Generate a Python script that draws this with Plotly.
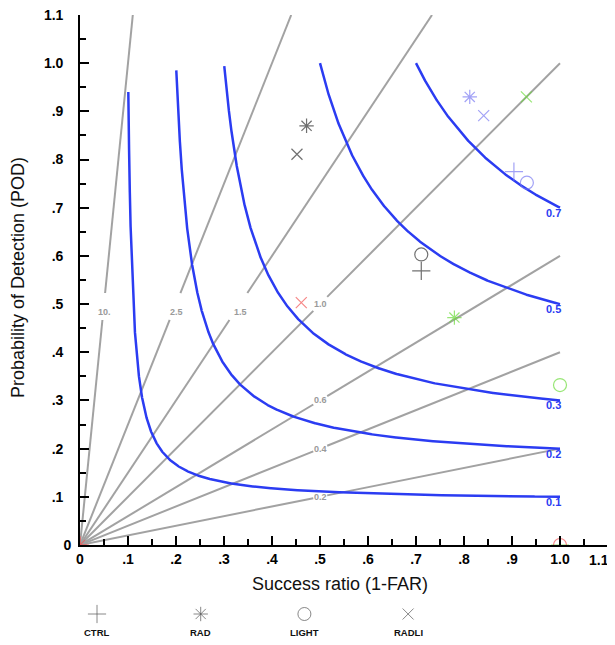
import numpy as np
import plotly.graph_objects as go

# The page has an 8px body margin; figure is sized/offset so the screen layout matches.
OFF = 8
W, H = 615 - OFF, 645 - OFF
PL, PR, PT, PB = 80 - OFF, 608 - OFF, 15 - OFF, 545 - OFF  # plot area in figure pixels

FONT = "Liberation Sans, Arial, Helvetica, sans-serif"
NB = "\u00a0\u00a0"

# ---------------- data ----------------
tick_vals = [0.0, 0.1, 0.2, 0.3, 0.4, 0.5, 0.6, 0.7, 0.8, 0.9, 1.0, 1.1]
tick_text = ["0", ".1", ".2", ".3", ".4", ".5", ".6", ".7", ".8", ".9", "1.0", "1.1"]
minor_vals = [0.05, 0.15, 0.25, 0.35, 0.45, 0.55, 0.65, 0.75, 0.85, 0.95, 1.05]

bias_values = [10.0, 2.5, 1.5, 1.0, 0.6, 0.4, 0.2]
bias_labels = ["10.", "2.5", "1.5", "1.0", "0.6", "0.4", "0.2"]

csi_values = [0.1, 0.2, 0.3, 0.5, 0.7]
csi_labels = ["0.1", "0.2", "0.3", "0.5", "0.7"]
csi_top_pod = [0.94, 0.985, 0.994, 1.0, 1.0]

experiments = ["CTRL", "RAD", "LIGHT", "RADLI"]
exp_symbols = ["cross-thin-open", "asterisk-open", "circle-open", "x-thin-open"]
exp_sizes = [13, 12, 13, 11]

group_colors = ["#333333", "#7b7bf2", "#6cdc3c", "#f25454"]
sr_black = [0.711, 0.472, 0.711, 0.452]
pod_black = [0.569, 0.870, 0.603, 0.811]
sr_blue = [0.904, 0.812, 0.931, 0.841]
pod_blue = [0.775, 0.930, 0.752, 0.891]
sr_green = [1.0, 0.780, 1.0, 0.930]
pod_green = [0.0, 0.472, 0.332, 0.930]
sr_red = [0.0, 0.0, 1.0, 0.461]
pod_red = [0.0, 0.0, 0.0, 0.503]
group_sr = [sr_black, sr_blue, sr_green, sr_red]
group_pod = [pod_black, pod_blue, pod_green, pod_red]

BIAS_COLOR = "#a2a2a2"
CSI_COLOR = "#2b3cf2"
TICK_FONT = dict(family=FONT, size=14, color="black", weight="bold")

fig = go.Figure()

# ---------------- bias lines ----------------
annotations = []
for b, lab in zip(bias_values, bias_labels):
    x_end = min(1.0, 1.1 / b)
    if b > 1:
        g0, g1 = 0.467 / b, 0.523 / b
        lx, ly, ys = 0.5 / b, 0.5, -8
    else:
        g0, g1 = 0.486, 0.515
        lx, ly, ys = 0.5, 0.5 * b, 0
    xs = [0.0, g0, None, g1, x_end]
    yy = [None if v is None else b * v for v in xs]
    fig.add_trace(go.Scatter(x=xs, y=yy, mode="lines",
                             line=dict(color=BIAS_COLOR, width=2),
                             hoverinfo="skip", showlegend=False))
    annotations.append(dict(x=lx, y=ly, xref="x", yref="y", text=lab, showarrow=False,
                            xanchor="center", yanchor="middle", yshift=ys,
                            font=dict(family=FONT, size=9, color="#9a9a9a", weight="bold")))

# ---------------- CSI curves ----------------
for c, lab, top in zip(csi_values, csi_labels, csi_top_pod):
    pod_a = np.linspace(c, top, 1500)
    sr_a = 1.0 / (1.0 / c + 1.0 - 1.0 / pod_a)
    sr_top = 1.0 / (1.0 / c + 1.0 - 1.0 / top)
    sr_b = np.linspace(sr_top, 1.0, 1500)
    pod_b = 1.0 / (1.0 / c + 1.0 - 1.0 / sr_b)
    sr_all = np.concatenate([sr_a, sr_b])
    pod_all = np.concatenate([pod_a, pod_b])
    order = np.argsort(sr_all)
    fig.add_trace(go.Scatter(x=sr_all[order], y=pod_all[order], mode="lines",
                             line=dict(color=CSI_COLOR, width=2.5),
                             hoverinfo="skip", showlegend=False))
    annotations.append(dict(x=1.0, y=c, xref="x", yref="y", text=lab, showarrow=False,
                            xanchor="center", yanchor="middle", xshift=-7, yshift=-5,
                            font=dict(family=FONT, size=11, color=CSI_COLOR, weight="bold")))

# ---------------- scores ----------------
for col, srs, pods in zip(group_colors, group_sr, group_pod):
    fig.add_trace(go.Scatter(x=srs, y=pods, mode="markers", text=experiments,
                             marker=dict(symbol=exp_symbols, size=exp_sizes, color=col,
                                         line=dict(color=col, width=1.2)),
                             cliponaxis=True, showlegend=False))

# ---------------- custom legend (pixel-space overlay axes) ----------------
leg_x0, leg_dx = 97 - OFF, 103.7
leg_sym_y, leg_txt_y = H - (614 - OFF), H - (632 - OFF)
leg_x = [leg_x0 + i * leg_dx for i in range(len(experiments))]
fig.add_trace(go.Scatter(x=leg_x, y=[leg_sym_y] * len(experiments), mode="markers",
                         xaxis="x2", yaxis="y2",
                         marker=dict(symbol=exp_symbols, size=exp_sizes, color="#555555",
                                     line=dict(color="#555555", width=1)),
                         hoverinfo="skip", showlegend=False))
for xv, name in zip(leg_x, experiments):
    annotations.append(dict(x=xv, y=leg_txt_y, xref="x2", yref="y2", text=name, showarrow=False,
                            xanchor="center", yanchor="middle",
                            font=dict(family=FONT, size=9.5, color="#111111", weight="bold")))

# last x tick label, right-aligned at its tick so it stays inside the page (as in the reference)
annotations.append(dict(x=tick_vals[-1], y=0, xref="x", yref="y", text=tick_text[-1],
                        showarrow=False, xanchor="right", yanchor="top", xshift=3, yshift=-5,
                        font=TICK_FONT))

# axis titles
annotations.append(dict(x=(340 - OFF) / W, y=1 - (584 - OFF) / H, xref="paper", yref="paper",
                        text="Success ratio (1-FAR)", showarrow=False,
                        xanchor="center", yanchor="middle",
                        font=dict(family=FONT, size=18, color="#111111")))
annotations.append(dict(x=(18 - OFF) / W, y=1 - (278 - OFF) / H, xref="paper", yref="paper",
                        text="Probability of Detection (POD)", showarrow=False, textangle=-90,
                        xanchor="center", yanchor="middle",
                        font=dict(family=FONT, size=18, color="#111111")))

axis_common = dict(range=[0, 1.1], tickvals=tick_vals,
                   ticks="inside", ticklen=9, tickwidth=1.5, tickcolor="black",
                   showline=True, linewidth=2, linecolor="black",
                   showgrid=False, zeroline=False, automargin=False,
                   ticklabeloverflow="allow",
                   minor=dict(tickvals=minor_vals, ticks="inside", ticklen=6,
                              tickwidth=1.5, tickcolor="black", showgrid=False),
                   tickfont=TICK_FONT,
                   fixedrange=True)

y_tick_text = [t if t == "0" else t + NB for t in tick_text]
x_tick_text = tick_text[:-1] + [""]

fig.update_layout(
    width=W, height=H,
    margin=dict(l=0, r=0, t=0, b=0),
    paper_bgcolor="white", plot_bgcolor="rgba(0,0,0,0)",
    xaxis=dict(domain=[PL / W, PR / W], anchor="y", ticklabelstandoff=0,
               ticktext=x_tick_text, **axis_common),
    yaxis=dict(domain=[1 - PB / H, 1 - PT / H], anchor="x", ticklabelstandoff=4,
               ticktext=y_tick_text, **axis_common),
    xaxis2=dict(domain=[0, 1], range=[0, W], anchor="y2", visible=False, fixedrange=True),
    yaxis2=dict(domain=[0, 1], range=[0, H], anchor="x2", visible=False, fixedrange=True),
    annotations=annotations,
    showlegend=False,
)

fig.write_html("out.html", config={"displayModeBar": False})
